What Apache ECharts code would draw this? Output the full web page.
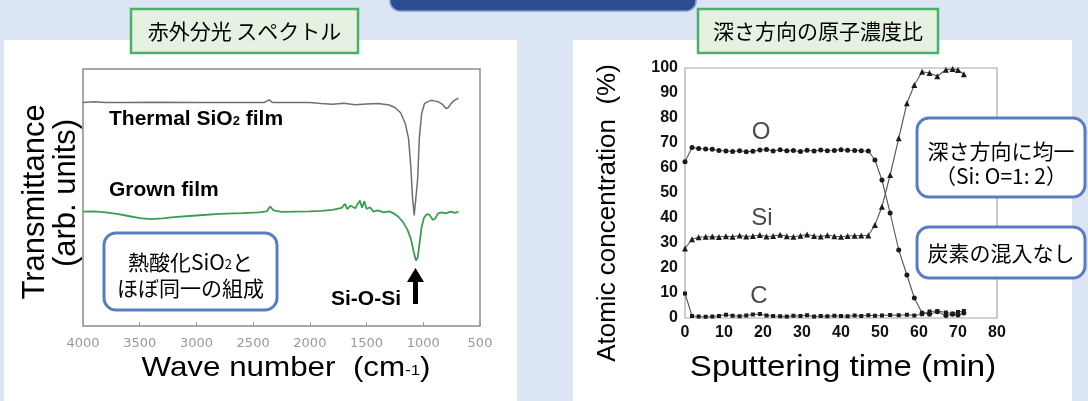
<!DOCTYPE html>
<html>
<head>
<meta charset="utf-8">
<script src="https://cdn.jsdelivr.net/npm/echarts@6/dist/echarts.min.js"></script>
<style>
html,body{margin:0;padding:0;background:#dbe5f4;}
#c{width:1088px;height:401px;}
</style>
</head>
<body>
<div id="c"></div>
<script>
// ---------- IR spectrum (left) ----------
const waveThermal = [4000,3900,3800,3600,3400,3000,2500,2400,2360,2330,2000,1900,1800,1700,1600,1500,1400,1300,1250,1200,1160,1130,1110,1095,1080,1067,1050,1035,1015,990,960,930,905,870,830,800,780,750,720,690];
const transThermal = [87.0,87.3,87.0,87.0,87.1,87.0,87.0,87.0,88.0,87.0,87.0,86.6,86.3,86.7,86.1,86.4,86.6,86.0,85.0,83.0,79.0,73.0,62.0,50.0,43.0,42.5,57.0,73.0,82.5,86.5,87.3,87.8,87.6,87.3,86.2,84.6,85.0,86.8,88.0,88.6];

const waveGrown = [4000,3900,3800,3700,3600,3500,3400,3300,3200,3000,2800,2600,2450,2380,2350,2320,2250,2000,1900,1800,1720,1690,1670,1640,1600,1560,1540,1520,1500,1470,1440,1400,1350,1300,1260,1220,1180,1140,1110,1085,1065,1050,1035,1015,995,970,945,915,895,870,840,800,760,720,690];
const transGrown = [44.5,44.6,44.2,43.6,42.8,42.0,41.6,41.9,42.4,43.0,43.6,43.9,44.2,44.6,46.5,45.0,44.4,44.6,44.8,45.2,46.0,47.5,45.5,46.8,45.8,48.8,46.0,48.5,45.5,46.2,44.5,45.0,44.2,44.6,43.8,42.5,40.5,37.5,34.0,29.0,25.5,26.5,31.5,38.5,42.0,43.5,43.2,41.2,41.8,43.8,44.2,43.8,44.5,44.0,44.5];

// ---------- Depth profile (right) ----------
const sputterTime = [0,1.8,3.5,5.3,7.0,8.7,10.5,12.2,14.0,15.7,17.4,19.2,20.9,22.6,24.4,26.1,27.8,29.6,31.3,33.1,34.8,36.5,38.3,40.0,41.7,43.5,45.2,47.0,48.7,50.5,52.6,54.8,56.9,58.8,60.8,62.7,64.7,66.9,68.6,70.0,71.5];
const oxygen = [62.5,68.2,67.8,67.6,67.5,67.0,66.8,66.6,66.9,66.5,66.7,67.2,67.4,66.8,67.3,66.9,67.0,66.6,67.1,66.8,67.2,66.9,67.0,67.3,67.1,67.0,66.9,66.8,63.2,55.2,42.0,27.2,17.2,8.0,2.0,1.5,2.5,1.0,1.5,1.2,2.0];
const silicon = [27.8,31.5,32.3,32.5,32.6,32.4,32.7,32.5,33.0,32.6,32.8,33.2,32.6,32.8,33.3,32.7,32.5,32.9,33.4,32.8,32.6,33.1,32.7,32.5,32.8,32.9,33.0,33.0,37.2,44.5,57.2,71.9,85.9,93.2,98.5,98.0,96.7,99.3,99.6,99.2,97.5];
const carbon = [9.8,0.8,0.6,0.5,0.6,0.8,1.3,0.9,0.7,1.0,1.4,1.6,1.0,0.8,0.7,0.6,0.9,0.8,1.1,0.6,0.8,0.7,0.9,0.8,0.7,1.0,0.8,1.1,0.9,1.0,1.2,1.1,1.3,1.0,1.5,2.6,2.8,2.2,1.8,2.4,2.8];

const LAT = '"Liberation Sans", Arial, sans-serif';
const CJK = '"Noto Sans CJK JP", "Noto Sans CJK SC", sans-serif';
const zip = (xs, ys) => xs.map((x, i) => [x, ys[i]]);

const chart = echarts.init(document.getElementById('c'), null, {renderer: 'canvas'});

function txt(x, y, text, font, opts) {
  opts = opts || {};
  return Object.assign({
    type: 'text', x: x, y: y, z: 20,
    style: Object.assign({
      text: text, font: font, fill: opts.fill || '#000',
      textAlign: opts.align || 'center', textVerticalAlign: 'middle'
    }, opts.style || {})
  }, opts.el || {});
}

const graphic = [
  // panels
  {type: 'rect', z: -5, shape: {x: 4, y: 40, width: 513, height: 361}, style: {fill: '#ffffff'}},
  {type: 'rect', z: -5, shape: {x: 573, y: 40, width: 499, height: 361}, style: {fill: '#ffffff'}},
  // navy top bar
  {type: 'rect', z: 5, shape: {x: 390, y: -20, width: 306, height: 31, r: 10}, style: {fill: '#2b4c8e', stroke: '#7d9bd3', lineWidth: 1.5}},
  // title boxes
  {type: 'rect', z: 10, shape: {x: 131, y: 9, width: 227, height: 44}, style: {fill: '#e6f2e1', stroke: '#4caf6b', lineWidth: 2.5}},
  txt(244.5, 31, '赤外分光 スペクトル', '21px ' + CJK),
  {type: 'rect', z: 10, shape: {x: 698, y: 9, width: 240, height: 44}, style: {fill: '#e6f2e1', stroke: '#4caf6b', lineWidth: 2.5}},
  txt(818, 31, '深さ方向の原子濃度比', '21px ' + CJK),
  // callouts
  {type: 'rect', z: 10, shape: {x: 104, y: 233, width: 173, height: 77, r: 12}, style: {fill: '#ffffff', stroke: '#5b7cc0', lineWidth: 3}},
  txt(190.5, 262, '{a|熱酸化SiO}{s|2}{a|と}', '21px ' + CJK, {style: {rich: {a: {fontSize: 21, fontFamily: CJK, fill: '#000', lineHeight: 24}, s: {fontSize: 13, fontFamily: CJK, fill: '#000', lineHeight: 14, padding: [5, 0, 0, 0]}}}}),
  txt(190.5, 288, 'ほぼ同一の組成', '21px ' + CJK),
  {type: 'rect', z: 10, shape: {x: 917, y: 118, width: 168, height: 79, r: 12}, style: {fill: '#ffffff', stroke: '#5b7cc0', lineWidth: 3}},
  txt(1001, 151, '深さ方向に均一', '21px ' + CJK),
  txt(1001, 176, '（Si: O=1: 2）', '21px ' + CJK),
  {type: 'rect', z: 10, shape: {x: 917, y: 227, width: 168, height: 51, r: 12}, style: {fill: '#ffffff', stroke: '#5b7cc0', lineWidth: 3}},
  txt(1001, 253, '炭素の混入なし', '21px ' + CJK),
  // arrow + label
  {type: 'polygon', z: 20, shape: {points: [[407, 282], [415.5, 268], [424, 282]]}, style: {fill: '#000'}},
  {type: 'rect', z: 20, shape: {x: 413, y: 281, width: 5, height: 23}, style: {fill: '#000'}},
  txt(366, 299, 'Si-O-Si', 'bold 21px ' + LAT),
  // spectrum labels
  txt(109, 119, '{a|Thermal SiO}{s|2}{a| film}', 'bold 21px ' + LAT, {align: 'left', style: {rich: {a: {fontSize: 21, fontWeight: 'bold', fontFamily: LAT, fill: '#000', lineHeight: 24}, s: {fontSize: 13, fontWeight: 'bold', fontFamily: LAT, fill: '#000', lineHeight: 14, padding: [4, 0, 0, 0]}}}}),
  txt(109, 190, 'Grown film', 'bold 21px ' + LAT, {align: 'left'}),
  // axis titles left
  txt(35, 202, 'Transmittance', '31px ' + LAT, {el: {rotation: Math.PI / 2}}),
  txt(66, 193, '(arb. units)', '31px ' + LAT, {el: {rotation: Math.PI / 2}}),
  txt(286, 368, '{a|Wave number  (cm}{s|-1}{a|)}', '28px ' + LAT, {el: {scaleX: 1.12}, style: {rich: {a: {fontSize: 28, fontFamily: LAT, fill: '#000', lineHeight: 30}, s: {fontSize: 15, fontFamily: LAT, fill: '#000', lineHeight: 16, padding: [6, 0, 0, 0]}}}}),
  // axis titles right
  txt(608, 213, 'Atomic concentration  (%)', '26px ' + LAT, {el: {rotation: Math.PI / 2}}),
  txt(843, 368, 'Sputtering time (min)', '30px ' + LAT, {el: {scaleX: 1.1}}),
  // element labels
  txt(761, 132, 'O', '24px ' + LAT, {fill: '#4a4a4a'}),
  txt(762, 218, 'Si', '24px ' + LAT, {fill: '#4a4a4a'}),
  txt(759, 296, 'C', '24px ' + LAT, {fill: '#4a4a4a'})
];

const depthLine = (name, vals, symbol, size) => ({
  name: name, type: 'line', xAxisIndex: 1, yAxisIndex: 1,
  data: zip(sputterTime, vals), symbol: symbol, symbolSize: size, showSymbol: true,
  itemStyle: {color: '#1a1a1a'}, lineStyle: {color: '#555', width: 1.1}, z: 3
});

chart.setOption({
  backgroundColor: '#dbe5f4',
  animation: false,
  grid: [
    {left: 83, right: 608, top: 69, bottom: 75, show: true, backgroundColor: '#ffffff', borderColor: '#8c8c8c', borderWidth: 1.5},
    {left: 685, right: 91, top: 68, bottom: 83, show: true, backgroundColor: '#ffffff', borderColor: '#a8a8a8', borderWidth: 1.2}
  ],
  xAxis: [
    {gridIndex: 0, type: 'value', min: 500, max: 4000, interval: 500, inverse: true,
     axisLine: {show: false}, splitLine: {show: false},
     axisTick: {show: true, inside: true, length: 4, lineStyle: {color: '#999'}},
     axisLabel: {color: '#999', fontSize: 13, fontFamily: '"DejaVu Sans"', margin: 11, showMinLabel: true, showMaxLabel: true,
                 formatter: function (v) { return String(v); }}},
    {gridIndex: 1, type: 'value', min: 0, max: 80, interval: 10,
     axisLine: {show: false}, splitLine: {show: false}, axisTick: {show: false},
     axisLabel: {color: '#111', fontSize: 16, fontWeight: 'bold', fontFamily: LAT, margin: 7}}
  ],
  yAxis: [
    {gridIndex: 0, type: 'value', min: 0, max: 100, show: false},
    {gridIndex: 1, type: 'value', min: 0, max: 100, interval: 10,
     axisLine: {show: false}, splitLine: {show: false}, axisTick: {show: false},
     axisLabel: {color: '#111', fontSize: 16, fontWeight: 'bold', fontFamily: LAT, margin: 7}}
  ],
  series: [
    {name: 'Thermal SiO2 film', type: 'line', xAxisIndex: 0, yAxisIndex: 0, data: zip(waveThermal, transThermal),
     showSymbol: false, lineStyle: {color: '#6f6f6f', width: 1.5}, itemStyle: {color: '#6f6f6f'}, z: 2},
    {name: 'Grown film', type: 'line', xAxisIndex: 0, yAxisIndex: 0, data: zip(waveGrown, transGrown),
     showSymbol: false, lineStyle: {color: '#3c9c52', width: 1.8}, itemStyle: {color: '#3c9c52'}, z: 3},
    depthLine('O', oxygen, 'circle', 5),
    depthLine('Si', silicon, 'triangle', 6),
    depthLine('C', carbon, 'rect', 4)
  ],
  graphic: graphic
});
</script>
</body>
</html>
